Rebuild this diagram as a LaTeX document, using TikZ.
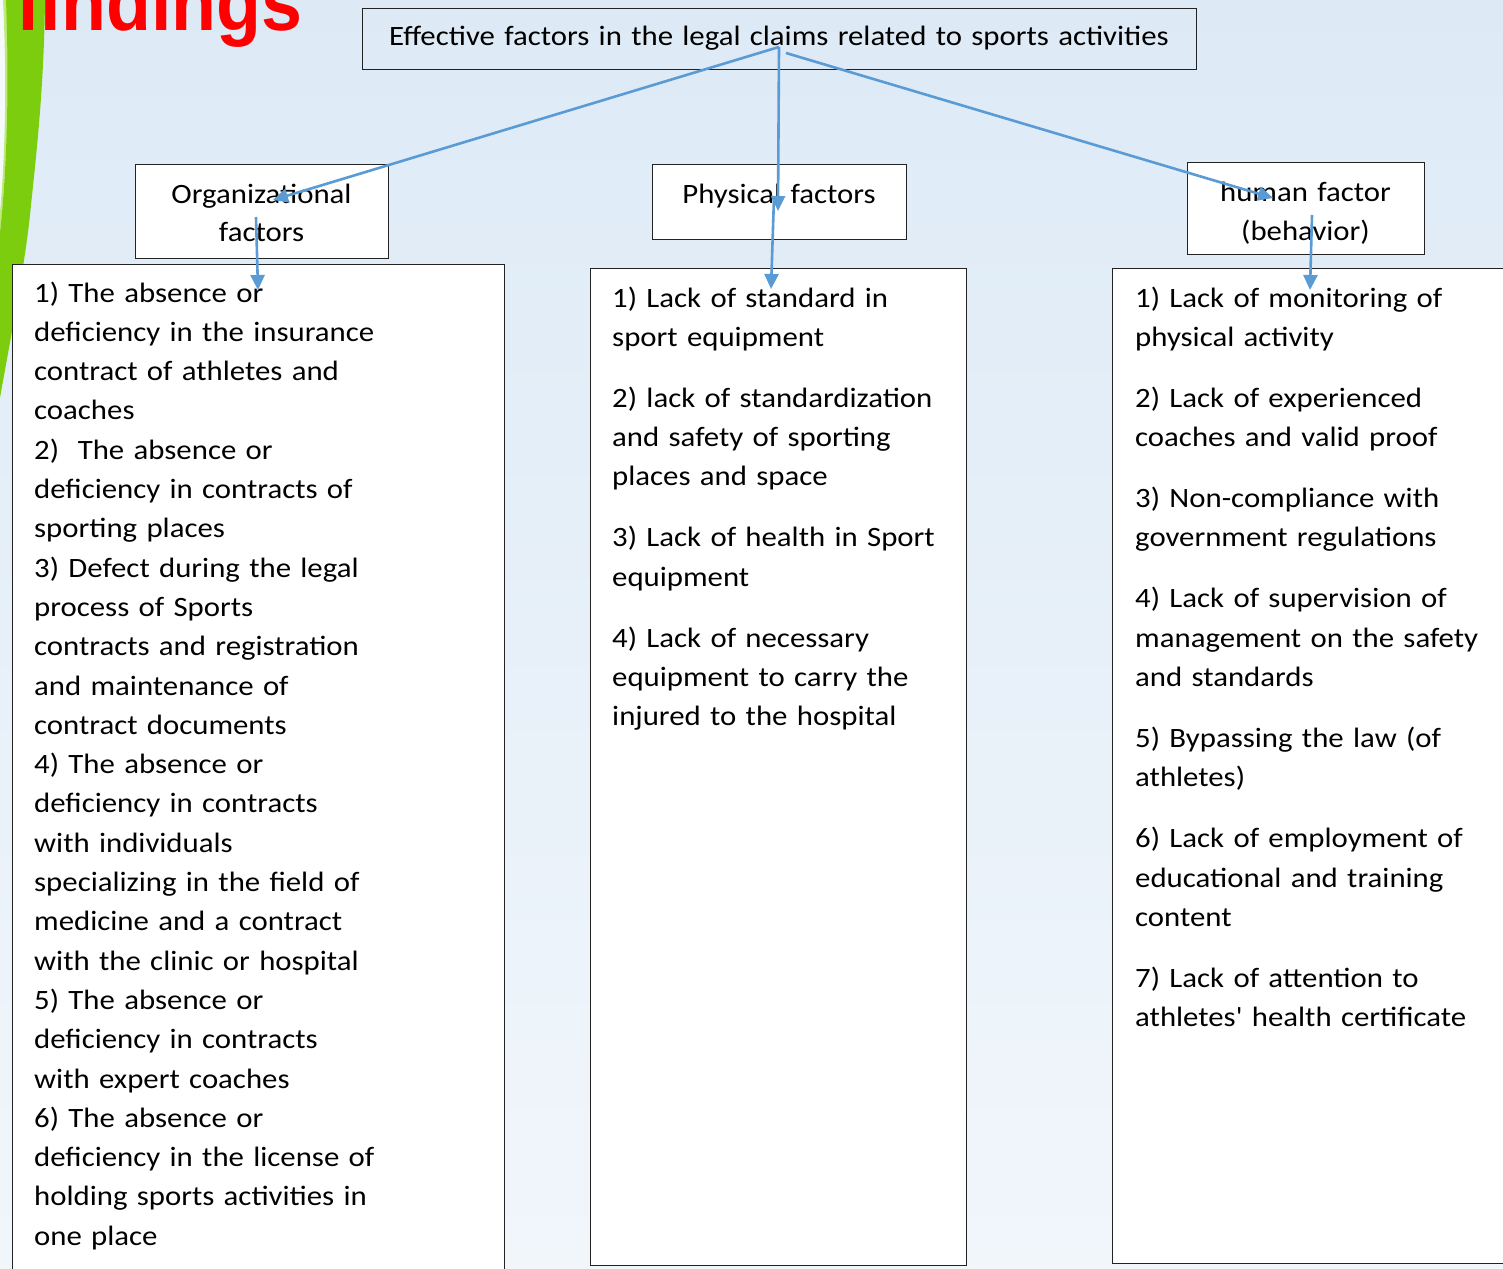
\documentclass[tikz,border=0pt]{standalone}
\usepackage{fontspec}
\setmainfont{Carlito}[FakeStretch=1.10, Ligatures=TeXOff]
\newfontfamily\headfont{Liberation Sans}[FakeStretch=0.92]
\usetikzlibrary{arrows.meta}
\definecolor{arrowblue}{RGB}{91,155,213}
\definecolor{bgtop}{RGB}{221,234,246}
\definecolor{bgbot}{RGB}{241,246,251}
\definecolor{swoosh}{RGB}{124,205,14}
\definecolor{swooshedge}{RGB}{190,235,120}
\definecolor{boxline}{RGB}{35,35,35}
\definecolor{titlered}{RGB}{255,0,0}
\tikzset{
  panel/.style={draw=boxline, line width=1.4pt, fill=white, inner sep=0pt, anchor=north west},
  listtext/.style={anchor=base west, inner sep=0pt, text width=#1, align=left,
    font=\fontsize{28}{39.3}\selectfont},
  headtext/.style={anchor=base, inner sep=0pt, text width=#1, align=center,
    font=\fontsize{28}{39}\selectfont},
  link/.style={draw=arrowblue, line width=2.6pt, -{Triangle[length=15pt,width=14pt]}},
}
\begin{document}
\begin{tikzpicture}[x=1pt,y=-1pt]
\useasboundingbox (0,0) rectangle (1503,1268);
\clip (0,0) rectangle (1503,1268);
\shade[top color=bgtop, bottom color=bgbot] (0,0) rectangle (1503,1268);
% left decoration
\fill[white!75!bgtop] (-5,0) -- (6,0) .. controls (9,80) and (8,170) .. (-2,250) -- (-5,250) -- cycle;
\fill[swooshedge] (3,0) .. controls (7,80) and (6,170) .. (-4,250) -- (-2,250)
  .. controls (8,170) and (9,80) .. (8,0) -- cycle;
\fill[swoosh] (6,0) .. controls (9,80) and (8,170) .. (-2,250)
  -- (-4,420) .. controls (12,330) and (26,260) .. (31,205)
  .. controls (38,140) and (44,80) .. (45,0) -- cycle;
\node[anchor=base west, inner sep=0pt, text=titlered, font=\headfont\bfseries\fontsize{80}{86}\selectfont] (findings) at (16,31) {findings};

% boxes
\node[draw=boxline, line width=1.4pt, inner sep=0pt, anchor=north west, minimum width=834pt, minimum height=61pt] (title) at (362,8) {};
\node[panel, minimum width=253pt, minimum height=94pt] (org) at (135,164) {};
\node[panel, minimum width=254pt, minimum height=75pt] (phy) at (652,164) {};
\node[panel, minimum width=237pt, minimum height=92pt] (hum) at (1187,162) {};
\node[panel, minimum width=492pt, minimum height=1100pt] (orglist) at (12,264) {};
\node[panel, minimum width=376pt, minimum height=997pt] (phylist) at (590,268) {};
\node[panel, minimum width=500pt, minimum height=995pt] (humlist) at (1112,268) {};

% texts
\node[headtext=830pt] (titletext) at (779,46) {Effective factors in the legal claims related to sports activities};
\node[headtext=250pt] (orgtext) at (261.5,203) {Organizational\\factors};
\node[headtext=250pt] (phytext) at (779,203) {Physical factors};
\node[headtext=235pt] (humtext) at (1305.5,201) {human factor\\(behavior)};

\node[listtext=460pt] (orgitems) at (34,302) {1) The absence or\\
deficiency in the insurance\\
contract of athletes and\\
coaches\\
2)\ \ The absence or\\
deficiency in contracts of\\
sporting places\\
3) Defect during the legal\\
process of Sports\\
contracts and registration\\
and maintenance of\\
contract documents\\
4) The absence or\\
deficiency in contracts\\
with individuals\\
specializing in the field of\\
medicine and a contract\\
with the clinic or hospital\\
5) The absence or\\
deficiency in contracts\\
with expert coaches\\
6) The absence or\\
deficiency in the license of\\
holding sports activities in\\
one place};

\node[listtext=350pt] (phyitems) at (612,307) {1) Lack of standard in\\
sport equipment\\[21.7pt]
2) lack of standardization\\
and safety of sporting\\
places and space\\[21.7pt]
3) Lack of health in Sport\\
equipment\\[21.7pt]
4) Lack of necessary\\
equipment to carry the\\
injured to the hospital};

\node[listtext=360pt] (humitems) at (1135,307) {1) Lack of monitoring of\\
physical activity\\[21.7pt]
2) Lack of experienced\\
coaches and valid proof\\[21.7pt]
3) Non-compliance with\\
government regulations\\[21.7pt]
4) Lack of supervision of\\
management on the safety\\
and standards\\[21.7pt]
5) Bypassing the law (of\\
athletes)\\[21.7pt]
6) Lack of employment of\\
educational and training\\
content\\[21.7pt]
7) Lack of attention to\\
athletes' health certificate};

% connector end points
\coordinate (tA) at (779,47);
\coordinate (tB) at (786,53);
\coordinate (orgIn) at (273,200);
\coordinate (phyIn) at (778,211);
\coordinate (humIn) at (1273,198);
\coordinate (orgOut) at (256,217);
\coordinate (orgL) at (258,290);
\coordinate (phyOut) at (774,197);
\coordinate (phyL) at (771,289);
\coordinate (humOut) at (1312,215);
\coordinate (humL) at (1310,290);

\draw[link] (tA) -- (orgIn);
\draw[link] (tA) -- (phyIn);
\draw[link] (tB) -- (humIn);
\draw[link] (orgOut) -- (orgL);
\draw[link] (phyOut) -- (phyL);
\draw[link] (humOut) -- (humL);
\end{tikzpicture}
\end{document}
